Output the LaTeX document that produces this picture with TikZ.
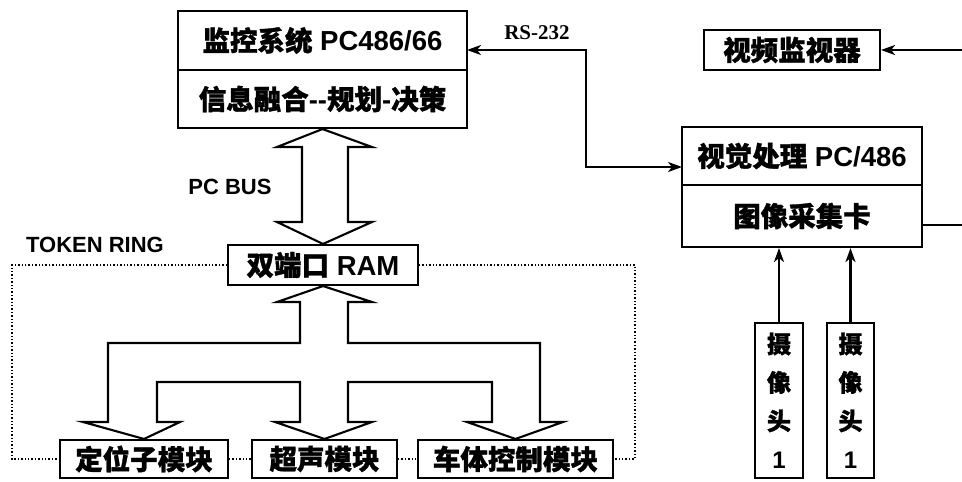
\documentclass[tikz,border=0pt]{standalone}
\usepackage{fontspec}
\setmainfont{Liberation Sans}
\newfontfamily\cjk{Noto Sans CJK SC}[FakeBold=1.2]
\newfontfamily\serifx{Liberation Serif}
\usetikzlibrary{arrows.meta}
\newcommand\Z[1]{{\cjk #1}}
\begin{document}
\begin{tikzpicture}[x=1pt,y=-1pt,
  box/.style={draw, line width=2.1pt, inner sep=0pt, font=\fontsize{27.5}{30}\selectfont\bfseries},
  cambox/.style={draw, line width=2.1pt, inner sep=0pt, align=center, minimum width=48pt, minimum height=155pt, font=\fontsize{24}{38.5}\selectfont\bfseries},
  lbl/.style={inner sep=0pt, font=\fontsize{22}{24}\selectfont\bfseries},
  hollow/.style={draw, line width=2.1pt, line join=miter, fill=white},
  ring/.style={draw, line width=1.4pt, dotted},
  tip/.tip={Stealth[length=14pt,width=10pt,inset=4pt]},
  conn/.style={draw, line width=2.2pt, -tip},
  conn2/.style={draw, line width=2.2pt, tip-tip},
  plain/.style={draw, line width=2.2pt}
]
\useasboundingbox (0,0) rectangle (962,482);

% nodes
\node[box, minimum width=289pt, minimum height=59pt] (top1) at (322.5,40.5) {\Z{监控系统} PC486/66};
\node[box, minimum width=289pt, minimum height=58pt] (top2) at (322.5,99) {\Z{信息融合}-{}-\Z{规划}-\Z{决策}};
\node[box, minimum width=190pt, minimum height=40pt] (ram) at (323,265) {\Z{双端口} RAM};
\node[box, minimum width=168pt, minimum height=38pt] (b1) at (144,459) {\Z{定位子模块}};
\node[box, minimum width=145pt, minimum height=38pt] (b2) at (324.5,459) {\Z{超声模块}};
\node[box, minimum width=195pt, minimum height=38pt] (b3) at (515.5,459) {\Z{车体控制模块}};
\node[box, minimum width=176pt, minimum height=40pt] (mon) at (792,50) {\Z{视频监视器}};
\node[box, minimum width=240pt, minimum height=58pt] (vis1) at (802,156) {\Z{视觉处理} PC/486};
\node[box, minimum width=240pt, minimum height=62pt] (vis2) at (802,216) {\Z{图像采集卡}};
\node[cambox] (cam1) at (779,400.5) {\Z{摄}\\\Z{像}\\\Z{头}\\1};
\node[cambox, minimum width=47pt] (cam2) at (850.5,400.5) {\Z{摄}\\\Z{像}\\\Z{头}\\1};

% labels
\node[lbl] (pcbus) at (230,187) {PC BUS};
\node[lbl] (token) at (95,245) {TOKEN RING};
\node[lbl] (stdbus) at (323,363) {STD\hspace{27pt}BUS};
\node[inner sep=0pt, font=\fontsize{21}{23}\selectfont\serifx\bfseries] (rs) at (537,33) {RS-232};

% PC BUS hollow double arrow
\path[hollow] (top2.south) -- (372,147) -- (348,147) -- (348,222) -- (372,222)
  -- (ram.north) -- (277,222) -- (302,222) -- (302,147) -- (277,147) -- cycle;

% STD BUS hollow branching arrow
\path[hollow] (ram.south) -- (372,302) -- (348,302) -- (348,343) -- (540,343) -- (540,422)
  -- (563,422) -- (b3.north) -- (467,422) -- (492,422) -- (492,382) -- (348,382)
  -- (348,422) -- (372,422) -- (b2.north) -- (275,422) -- (300,422) -- (300,382)
  -- (157,382) -- (157,422) -- (180,422) -- (b1.north) -- (83,422) -- (108,422)
  -- (108,343) -- (300,343) -- (300,302) -- (277,302) -- cycle;

% token ring (dotted)
\coordinate (rl) at (12,265);
\coordinate (rr) at (635,265);
\draw[ring] (ram.west) -- (rl) |- (b1.west);
\draw[ring] (b1.east) -- (b2.west);
\draw[ring] (b2.east) -- (b3.west);
\draw[ring] (ram.east) -- (rr) |- (b3.east);

% RS-232 link
\coordinate (rsA) at (467,50);
\coordinate (rsB) at (586,50);
\coordinate (rsC) at (682,167);
\draw[conn2] (rsA) -- (rsB) |- (rsC);

% monitor feed and capture card line
\coordinate (monin) at (962,50);
\coordinate (capout) at (962,225);
\draw[conn] (monin) -- (mon.east);
\draw[plain] (vis2.east |- capout) -- (capout);

% cameras
\draw[conn] (cam1.north) -- (cam1.north |- vis2.south);
\draw[conn] (cam2.north) -- (cam2.north |- vis2.south);
\end{tikzpicture}
\end{document}
